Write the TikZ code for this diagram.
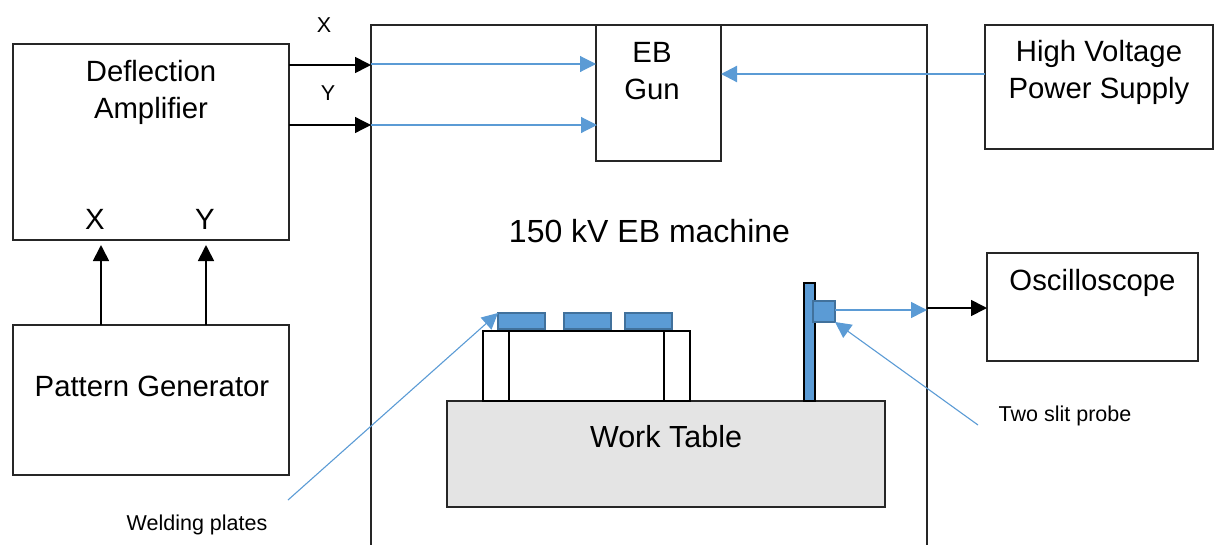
\documentclass[tikz,border=0pt]{standalone}
\usepackage{fontspec}
\setmainfont{Liberation Sans}
\usetikzlibrary{arrows.meta, calc}
\definecolor{plateblue}{HTML}{5B9BD5}
\definecolor{plateedge}{HTML}{41719C}
\definecolor{tablegray}{HTML}{E4E4E4}

\begin{document}
\begin{tikzpicture}[
    x=1pt, y=-1pt,
    box/.style={rectangle, draw=black!85, line width=1.1pt, inner sep=0pt, outer sep=0pt},
    part/.style={box, draw=black, line width=1.6pt},
    plate/.style={rectangle, draw=plateedge, fill=plateblue, line width=1.8pt, inner sep=0pt, outer sep=0pt},
    txt/.style={align=center, inner sep=0pt, font=\fontsize{29.3}{37}\selectfont},
    small/.style={inner sep=0pt, font=\fontsize{21.5}{24}\selectfont},
    sig/.style={-{Triangle[length=16pt, width=16pt]}, black, line width=1.7pt},
    beam/.style={-{Triangle[length=16pt, width=16pt]}, plateblue, line width=1.1pt}]
\useasboundingbox (0,0) rectangle (1219,544);
\node[box, minimum width=276pt, minimum height=196pt] (defl) at (151,142) {};
\node[box, minimum width=276pt, minimum height=150pt] (pattern) at (151,400) {};
\node[box, minimum width=556pt, minimum height=524pt] (machine) at (649,287) {};
\node[box, minimum width=125pt, minimum height=136pt] (gun) at (658.5,93) {};
\node[box, minimum width=228pt, minimum height=124pt] (hv) at (1099,87) {};
\node[box, minimum width=211pt, minimum height=108pt] (osc) at (1092.5,307) {};
\node[box, fill=tablegray, minimum width=438pt, minimum height=106pt] (table) at (666,454) {};
\node[part, minimum width=207pt, minimum height=70pt] (holder) at (586.5,366) {};
\node[part, minimum width=26pt, minimum height=70pt] (clampl) at (496,366) {};
\node[part, minimum width=26pt, minimum height=70pt] (clampr) at (677,366) {};
\node[plate, minimum width=47pt, minimum height=16pt] (platea) at (521.5,321) {};
\node[plate, minimum width=47pt, minimum height=16pt] (plateb) at (587.5,321) {};
\node[plate, minimum width=47pt, minimum height=16pt] (platec) at (648.5,321) {};
\node[part, fill=plateblue, minimum width=11pt, minimum height=118pt] (post) at (809.5,342) {};
\node[plate, minimum width=22pt, minimum height=21pt] (probe) at (824,311.5) {};
% labels
\node[txt] (defltxt) at (151,92) {Deflection\\Amplifier};
\node[txt] (inx) at (95,219) {X};
\node[txt] (iny) at (205,219) {Y};
\node[txt] (pattxt) at (152,386) {Pattern Generator};
\node[txt] (guntxt) at (652,71) {EB\\Gun};
\node[txt] (hvtxt) at (1099,72) {High Voltage\\Power Supply};
\node[txt] (osctxt) at (1092.5,283) {Oscilloscope};
\node[txt, font=\fontsize{32}{37}\selectfont] (mach) at (649.5,231) {150 kV EB machine};
\node[txt, font=\fontsize{30.5}{37}\selectfont] (tabletxt) at (666,437) {Work Table};
\node[small] (outx) at (324,25) {X};
\node[small] (outy) at (328,93) {Y};
\node[small] (weld) at (197,525) {Welding plates};
\node[small] (slit) at (1065,416) {Two slit probe};
\coordinate (weldend) at (288,500);
\coordinate (slitend) at (978,425);
% connectors
\draw[sig] (defl.east |- 0,65) -- (machine.west |- 0,65);
\draw[sig, line width=1.3pt] (defl.east |- 0,125) -- (machine.west |- 0,125);
\draw[beam] (machine.west |- 0,64) -- (gun.west |- 0,64);
\draw[beam] (machine.west |- 0,125) -- (597,125);
\draw[beam, line width=2.2pt] (hv.west |- 0,74) -- (gun.east |- 0,74);
\draw[sig] (pattern.north -| 101,0) -- (101,245);
\draw[sig] (pattern.north -| 206,0) -- (206,245);
\draw[beam, line width=1.5pt] (probe.east |- 0,310) -- (machine.east |- 0,310);
\draw[sig] (machine.east |- 0,308) -- (osc.west |- 0,308);
\draw[beam] (weldend) -- (platea.north west);
\draw[beam] (slitend) -- (probe.south east);
\end{tikzpicture}
\end{document}
